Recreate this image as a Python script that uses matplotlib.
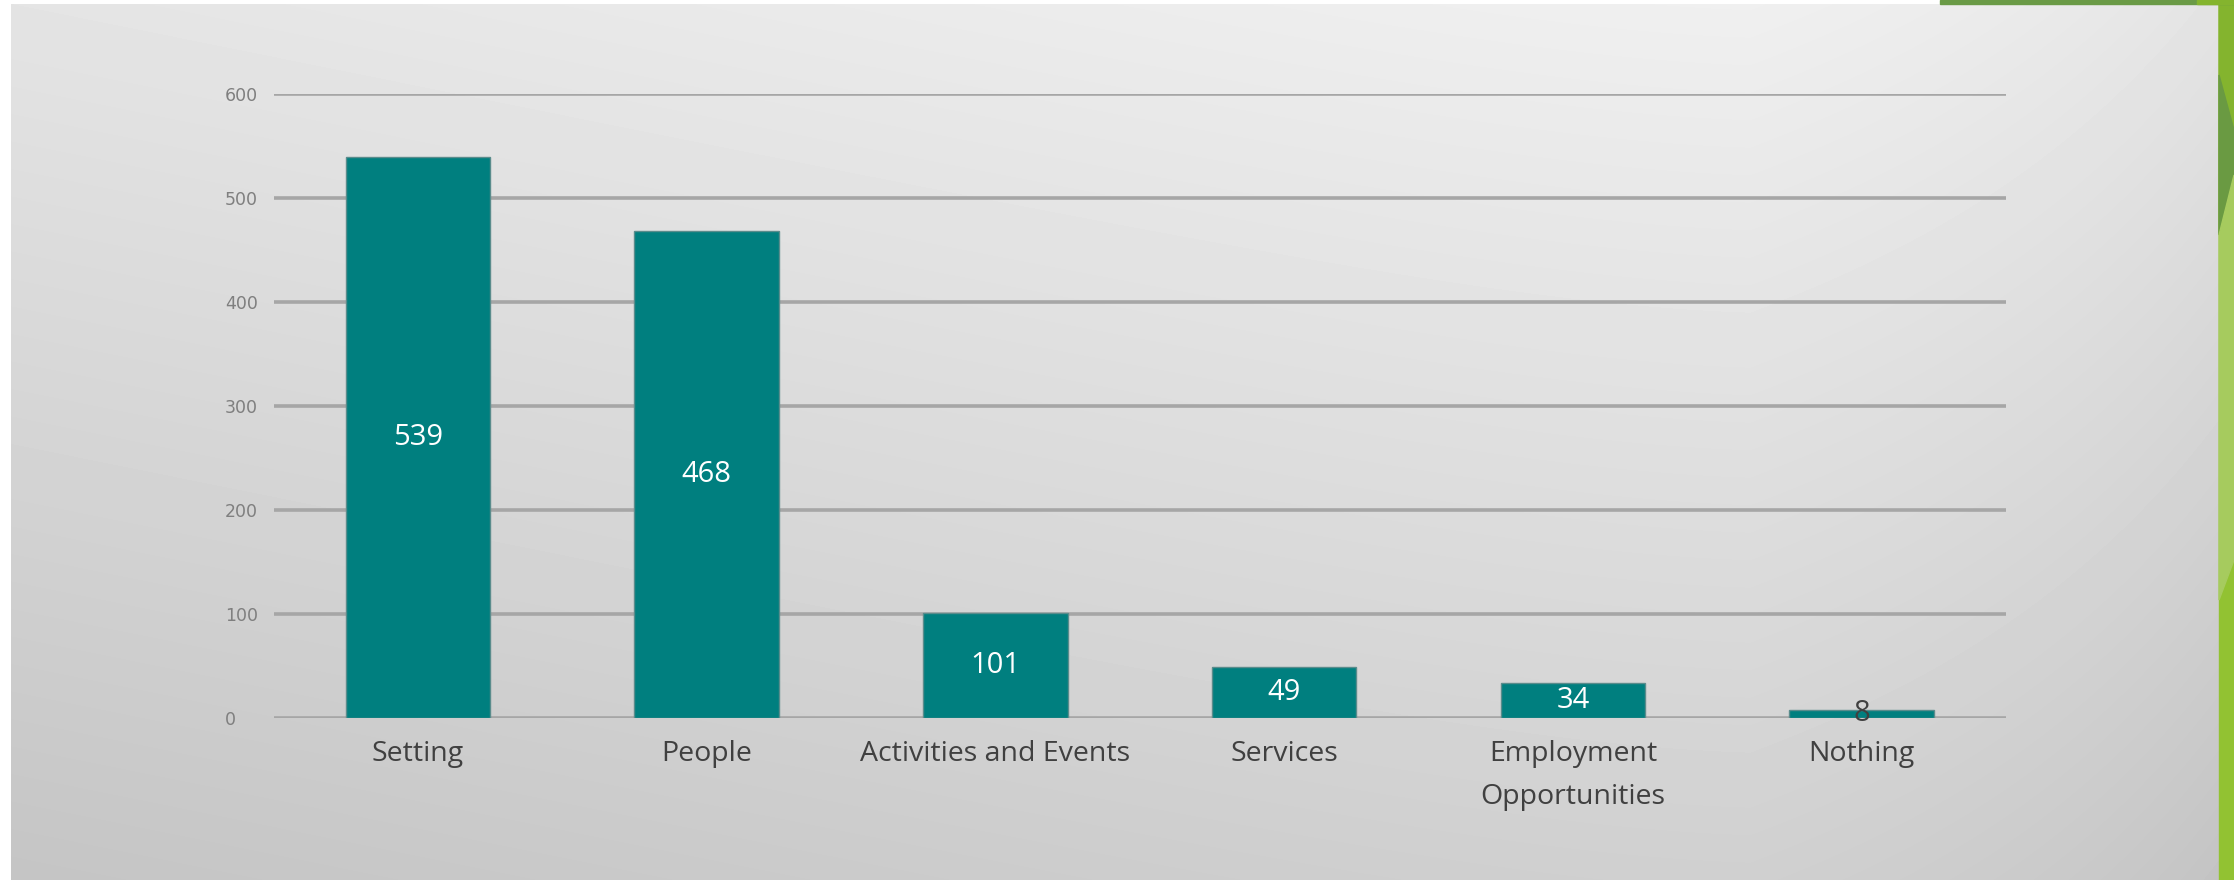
import numpy as np
import matplotlib.pyplot as plt
from matplotlib.patches import Polygon

categories = ["Setting", "People", "Activities and Events", "Services",
              "Employment\nOpportunities", "Nothing"]
counts = [539, 468, 101, 49, 34, 8]
yticks = [0, 100, 200, 300, 400, 500, 600]

W, H = 2234, 880
fig = plt.figure(figsize=(W / 100, H / 100), dpi=100, facecolor="white")

# slide background: grey gradient panel + green strip on the right
bg = fig.add_axes([0, 0, 1, 1])
bg.set_xlim(0, W)
bg.set_ylim(H, 0)
bg.axis("off")
xx, yy = np.meshgrid(np.arange(11, 2219), np.arange(4, 880))
shade = (0.945 - 0.05 * np.abs(xx - 1750) / 1740 - 0.125 * yy / 880
         - 0.04 * np.exp(-(2219 - xx) / 250))
bg.imshow(shade, cmap="gray", vmin=0, vmax=1, extent=(11, 2219, 880, 4),
          aspect="auto", interpolation="bilinear")
bg.add_patch(Polygon([(2219, 0), (2234, 0), (2234, 880), (2219, 880)], color="#92c232"))
bg.add_patch(Polygon([(2219, 0), (2234, 0), (2234, 175), (2219, 235)], color="#84b42e"))
bg.add_patch(Polygon([(2219, 75), (2234, 130), (2234, 175), (2219, 235)], color="#6a9a42"))
bg.add_patch(Polygon([(2219, 235), (2234, 175), (2234, 560), (2219, 600)], color="#a6cb5e"))
bg.add_patch(Polygon([(1940, 0), (2234, 0), (2234, 4), (1940, 4)], color="#6a9a46"))
bg.add_patch(Polygon([(2197, 0), (2234, 0), (2234, 4), (2197, 4)], color="#84b42e"))

left, right, top, bottom = 273.5, 2006, 94, 718
ax = fig.add_axes([left / W, 1 - bottom / H, (right - left) / W, (bottom - top) / H])
ax.set_facecolor("none")

x = np.arange(len(categories))
bars = ax.bar(x, counts, width=0.5, color="#007f7f", edgecolor="#5a8c8c",
              linewidth=1, zorder=3)

ax.set_xlim(-0.5, len(categories) - 0.5)
ax.set_ylim(0, 600)
ax.set_yticks(yticks)
ax.set_yticklabels([str(v) for v in yticks])
ax.yaxis.grid(True, color="#a6a6a6", linewidth=2.6)
ax.set_axisbelow(True)
for s in ax.spines.values():
    s.set_visible(False)

ax.set_xticks(x)
ax.set_xticklabels(categories, fontfamily="Open Sans", fontsize=20.5, color="#404040",
                   linespacing=1.7)
ax.tick_params(axis="x", length=0, pad=16)
ax.tick_params(axis="y", length=0, pad=35, labelsize=12.5, labelcolor="#7f7f7f")
for lab in ax.get_yticklabels():
    lab.set_horizontalalignment("left")

texts = ax.bar_label(bars, label_type="center", color="white", fontsize=21,
                     fontfamily="Open Sans")
texts[-1].set_color("#404040")

fig.savefig("out.png", dpi=100, facecolor="white")
